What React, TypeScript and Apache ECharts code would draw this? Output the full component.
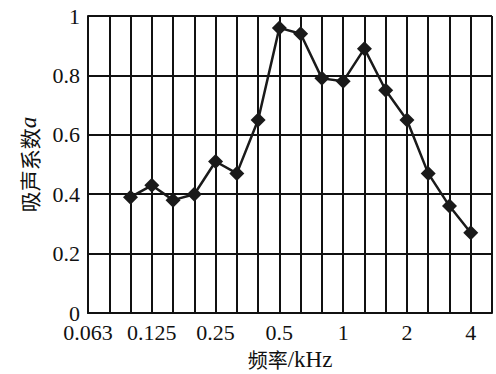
import React, { useEffect, useRef } from "react";
import * as echarts from "echarts";

const frequencies = ["0.063", "0.08", "0.1", "0.125", "0.16", "0.2", "0.25", "0.315", "0.4", "0.5", "0.63", "0.8", "1", "1.25", "1.6", "2", "2.5", "3.15", "4", "5"];
const labeledFrequencies = ["0.063", "0.125", "0.25", "0.5", "1", "2", "4"];
const absorption = [null, null, 0.39, 0.43, 0.38, 0.4, 0.51, 0.47, 0.65, 0.96, 0.94, 0.79, 0.78, 0.89, 0.75, 0.65, 0.47, 0.36, 0.27, null];

export default function App() {
  const ref = useRef<HTMLDivElement>(null);
  useEffect(() => {
    if (!ref.current) return;
    const chart = echarts.init(ref.current, null, { renderer: "svg" });
    const serif = "Liberation Serif";
    chart.setOption({
      animation: false,
      backgroundColor: "#fff",
      grid: { left: 88, right: 4, top: 16, bottom: 61, outerBoundsMode: "none", containLabel: false },
      xAxis: {
        type: "category",
        data: frequencies,
        boundaryGap: false,
        name: "{c|频率}{u|/kHz}",
        nameLocation: "middle",
        nameGap: 36,
        nameTextStyle: {
          rich: {
            c: { fontFamily: "Noto Sans CJK SC", fontSize: 20, color: "#111", lineHeight: 20 },
            u: { fontFamily: serif, fontSize: 23, color: "#111", lineHeight: 20 },
          },
        },
        axisLine: { lineStyle: { color: "#111", width: 2 } },
        axisTick: { show: false },
        axisLabel: {
          interval: (i: number, v: string) => labeledFrequencies.includes(v),
          fontFamily: serif,
          fontSize: 22,
          color: "#111",
          margin: 11,
          lineHeight: 16,
        },
        splitLine: { show: true, interval: 0, lineStyle: { color: "#111", width: 2 } },
      },
      yAxis: {
        type: "value",
        min: 0,
        max: 1,
        interval: 0.2,
        name: "{c|吸声系数}{i|a}",
        nameLocation: "middle",
        nameGap: 48,
        nameTextStyle: {
          rich: {
            c: { fontFamily: "Noto Sans CJK SC", fontSize: 21, color: "#111" },
            i: { fontFamily: serif, fontStyle: "italic", fontSize: 23, color: "#111" },
          },
        },
        axisLine: { show: true, lineStyle: { color: "#111", width: 2 } },
        axisTick: { show: false },
        axisLabel: { fontFamily: serif, fontSize: 22, color: "#111", margin: 8, lineHeight: 16, padding: [0, 0, 4, 0] },
        splitLine: { show: true, lineStyle: { color: "#111", width: 2 } },
      },
      series: [
        {
          type: "line",
          data: absorption,
          symbol: "diamond",
          symbolSize: 15,
          showAllSymbol: true,
          itemStyle: { color: "#1a1a1a" },
          lineStyle: { color: "#1a1a1a", width: 2.5 },
          connectNulls: false,
        },
      ],
    });
    return () => chart.dispose();
  }, []);
  return <div ref={ref} style={{ width: 496, height: 374, position: "absolute", left: 0, top: 0 }} />;
}
